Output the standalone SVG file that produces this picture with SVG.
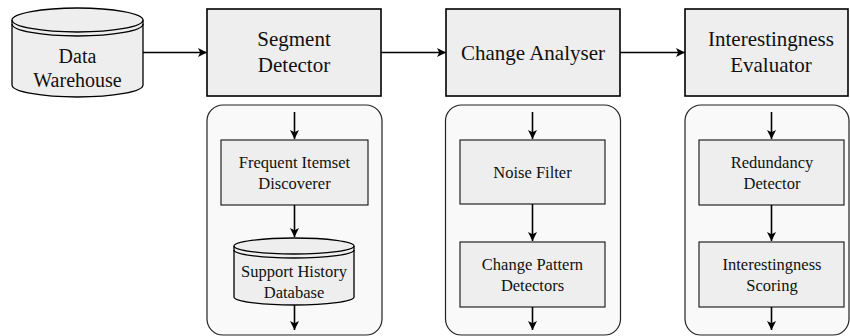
<svg xmlns="http://www.w3.org/2000/svg" width="850" height="336" viewBox="0 0 850 336">
<defs>
<marker id="ah" viewBox="0 0 10 10" refX="10" refY="5" markerWidth="9" markerHeight="9" markerUnits="userSpaceOnUse" orient="auto">
<path d="M0,0 L10,5 L0,10 L2.5,5 Z" fill="#000"/>
</marker>
<style>
.big{fill:#eeeeee;stroke:#000;stroke-width:1.6}
.panel{fill:#f9f9f9;stroke:#222;stroke-width:1.2}
.box{fill:#eeeeee;stroke:#111;stroke-width:1.1}
.cyl{fill:#eeeeee;stroke:#000;stroke-width:1.3}
.ln{fill:none;stroke:#000;stroke-width:1.3}
.conn{fill:none;stroke:#000;stroke-width:1.6;marker-end:url(#ah)}
text{font-family:"Liberation Serif","Times New Roman",serif;fill:#111;text-anchor:middle}
.t21{font-size:21px}
.t20{font-size:20px}
.t17{font-size:16.5px}
</style>
</defs>
<rect width="850" height="336" fill="#fff"/>

<g id="panel-segment">
<rect class="panel" x="207" y="105" width="175" height="230" rx="16"/>
</g>
<g id="panel-change">
<rect class="panel" x="445.5" y="105" width="175" height="230" rx="16"/>
</g>
<g id="panel-evaluator">
<rect class="panel" x="685" y="105" width="164" height="230" rx="16"/>
</g>

<g id="data-warehouse">
<path class="cyl" d="M12,20 A65.5,12 0 0 1 143,20 L143,85 A65.5,12 0 0 1 12,85 Z"/>
<path class="ln" d="M12,20 A65.5,12 0 0 0 143,20"/>
<path class="ln" d="M12,24 A65.5,12 0 0 0 143,24"/>
<text class="t20" x="77.5" y="63">Data</text>
<text class="t20" x="77.5" y="87">Warehouse</text>
</g>

<g id="segment-detector">
<rect class="big" x="207" y="9" width="174" height="87"/>
<text class="t21" x="294" y="46">Segment</text>
<text class="t21" x="294" y="72">Detector</text>
</g>

<g id="change-analyser">
<rect class="big" x="446" y="9" width="174" height="87"/>
<text class="t21" x="533" y="60">Change Analyser</text>
</g>

<g id="interestingness-evaluator">
<rect class="big" x="685" y="9" width="163" height="87"/>
<text class="t21" x="771" y="46">Interestingness</text>
<text class="t21" x="771" y="72">Evaluator</text>
</g>

<g id="frequent-itemset-discoverer">
<rect class="box" x="221" y="140" width="147" height="65"/>
<text class="t17" x="294.5" y="168">Frequent Itemset</text>
<text class="t17" x="294.5" y="189">Discoverer</text>
</g>

<g id="support-history-database">
<path class="cyl" d="M234,246 A60,8 0 0 1 354,246 L354,297 A60,8 0 0 1 234,297 Z"/>
<path class="ln" d="M234,246 A60,8 0 0 0 354,246"/>
<path class="ln" d="M234,250 A60,8 0 0 0 354,250"/>
<text class="t17" x="294" y="277">Support History</text>
<text class="t17" x="294" y="298">Database</text>
</g>

<g id="noise-filter">
<rect class="box" x="460" y="140" width="145" height="64"/>
<text class="t17" x="532.5" y="178">Noise Filter</text>
</g>

<g id="change-pattern-detectors">
<rect class="box" x="460" y="242" width="145" height="65"/>
<text class="t17" x="532.5" y="270">Change Pattern</text>
<text class="t17" x="532.5" y="291">Detectors</text>
</g>

<g id="redundancy-detector">
<rect class="box" x="699" y="140" width="145" height="65"/>
<text class="t17" x="772" y="168">Redundancy</text>
<text class="t17" x="772" y="189">Detector</text>
</g>

<g id="interestingness-scoring">
<rect class="box" x="699" y="242" width="145" height="65"/>
<text class="t17" x="772" y="270">Interestingness</text>
<text class="t17" x="772" y="291">Scoring</text>
</g>

<g id="connectors">
<line class="conn" x1="143" y1="52.5" x2="207" y2="52.5"/>
<line class="conn" x1="381" y1="52.5" x2="446" y2="52.5"/>
<line class="conn" x1="620" y1="52.5" x2="685" y2="52.5"/>

<line class="conn" x1="294.5" y1="112" x2="294.5" y2="139"/>
<line class="conn" x1="294.5" y1="205" x2="294.5" y2="237"/>
<line class="conn" x1="294.5" y1="305" x2="294.5" y2="330"/>

<line class="conn" x1="532.5" y1="112" x2="532.5" y2="139"/>
<line class="conn" x1="532.5" y1="204" x2="532.5" y2="241"/>
<line class="conn" x1="532.5" y1="307" x2="532.5" y2="330"/>

<line class="conn" x1="771.5" y1="112" x2="771.5" y2="139"/>
<line class="conn" x1="771.5" y1="205" x2="771.5" y2="241"/>
<line class="conn" x1="771.5" y1="307" x2="771.5" y2="330"/>
</g>
</svg>
